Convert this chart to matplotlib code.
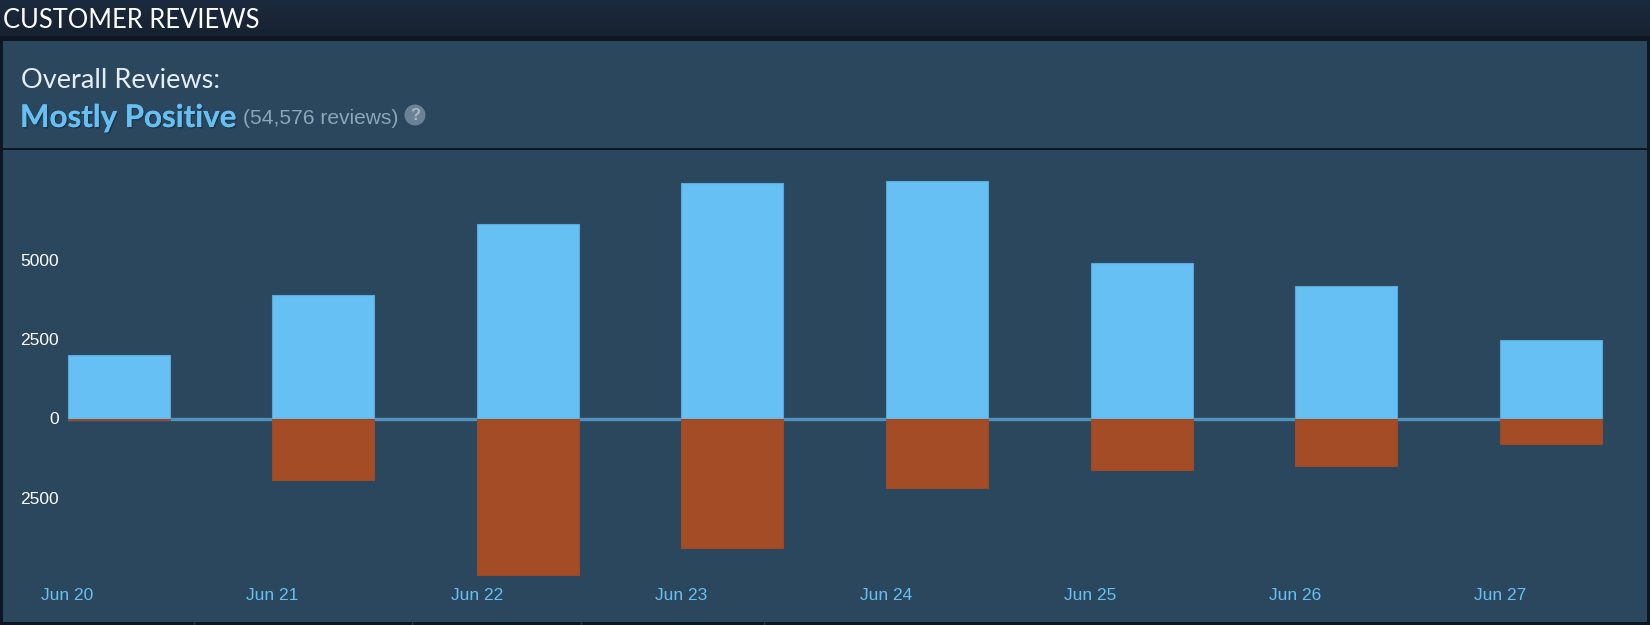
import matplotlib
matplotlib.use("Agg")
import matplotlib.pyplot as plt
from matplotlib.patches import Rectangle, Circle
import matplotlib.patheffects as pe
import numpy as np

dates = ["Jun 20", "Jun 21", "Jun 22", "Jun 23", "Jun 24", "Jun 25", "Jun 26", "Jun 27"]
positive = [1987, 3874, 6126, 7417, 7483, 4901, 4172, 2483]
negative = [50, 1921, 4934, 4073, 2185, 1623, 1490, 795]
ytick_values = [5000, 2500, 0, -2500]
ytick_labels = ["5000", "2500", "0", "2500"]

W, H = 1650, 625
BAR_STEP = 204.6
BAR_W = 102
X0 = 67.5
ZERO_Y = 418.5
PX_PER_UNIT = 79.5 / 2500
AX_L, AX_R, AX_T, AX_B = 3, 1647, 150, 622

fig = plt.figure(figsize=(W / 100, H / 100), dpi=100, facecolor="#0f1a2a")

# page background and panels, in pixel coordinates
bg = fig.add_axes([0, 0, 1, 1], zorder=0)
bg.set_xlim(0, W); bg.set_ylim(H, 0); bg.axis("off")
grad = np.linspace(0, 1, 40)[:, None]
bg.imshow(grad, extent=(0, W, 38, 0), aspect="auto", zorder=1,
          cmap=matplotlib.colors.LinearSegmentedColormap.from_list("h", ["#1b2a3e", "#17212f"]))
bg.set_xlim(0, W); bg.set_ylim(H, 0)
bg.add_patch(Rectangle((0, 36), W, H - 36, fc="#0d1723", ec="none", zorder=1))
bg.add_patch(Rectangle((3, 41), AX_R - 3, 107, fc="#2a475e", ec="none", zorder=2))
bg.add_patch(Rectangle((3, 150), AX_R - 3, 472, fc="#2a475e", ec="none", zorder=2))
for x in [194, 412, 581, 764]:
    bg.plot([x, x], [622, 625], color="#2a3a4c", lw=1, zorder=3)

bg.text(3, 20, "CUSTOMER REVIEWS", family="Lato", fontsize=18.4, color="#ffffff", va="center", ha="left", zorder=5)
bg.text(21, 80, "Overall Reviews:", family="Lato", fontsize=19.5, color="#e6eef4", va="center", ha="left", zorder=5)
bg.text(20, 118, "Mostly Positive", family="Lato", fontsize=22.5, weight="bold", color="#66c0f4", va="center", ha="left", zorder=5,
        path_effects=[pe.withSimplePatchShadow(offset=(1, -1), shadow_rgbFace="#1b3040", alpha=0.8), pe.Normal()])
bg.text(243, 119, "(54,576 reviews)", family="Liberation Sans", fontsize=15.1, color="#8ba6b6", va="center", ha="left", zorder=5)
bg.add_patch(Circle((415, 115), 10.5, fc="#6b8296", ec="none", zorder=4))
bg.text(415, 115, "?", family="Liberation Sans", weight="bold", fontsize=12, color="#a9b8c4", va="center", ha="center", zorder=5)

# chart axes: limits derived from the pixel frame
ax = fig.add_axes([AX_L / W, 1 - AX_B / H, (AX_R - AX_L) / W, (AX_B - AX_T) / H], zorder=2)
ax.patch.set_alpha(0)
ax.set_xlim((AX_L - X0) / BAR_STEP, (AX_R - X0) / BAR_STEP)
ax.set_ylim(-(AX_B - ZERO_Y) / PX_PER_UNIT, (ZERO_Y - AX_T) / PX_PER_UNIT)
for s in ax.spines.values():
    s.set_visible(False)

x = np.arange(len(dates))
width = BAR_W / BAR_STEP
ax.hlines(0, 0, x[-1] + width, color="#4f93bd", lw=2.4, zorder=1)
ax.bar(x, positive, width=width, align="edge", color="#66c0f4", edgecolor="#5aa9d6", lw=0.8, zorder=2)
ax.bar(x, [-v for v in negative], width=width, align="edge", color="#a34c25", edgecolor="#9a4a26", lw=0.8, zorder=2)

ax.set_xticks(x, dates)
ax.tick_params(axis="x", length=0, pad=0, labelcolor="#66c0f4", labelsize=12.5)
for lab in ax.get_xticklabels():
    lab.set_family("Liberation Sans")
    lab.set_ha("center")
    lab.set_va("center")
    lab.set_transform(ax.get_xaxis_transform())
    lab.set_position((lab.get_position()[0], (AX_B - 596) / (AX_B - AX_T)))

ax.set_yticks(ytick_values, ytick_labels)
ax.tick_params(axis="y", direction="in", length=0, pad=-40, labelcolor="#ffffff", labelsize=12.5)
for lab in ax.get_yticklabels():
    lab.set_family("Liberation Sans")
    lab.set_ha("right")

fig.savefig("out.png", dpi=100, facecolor=fig.get_facecolor())
